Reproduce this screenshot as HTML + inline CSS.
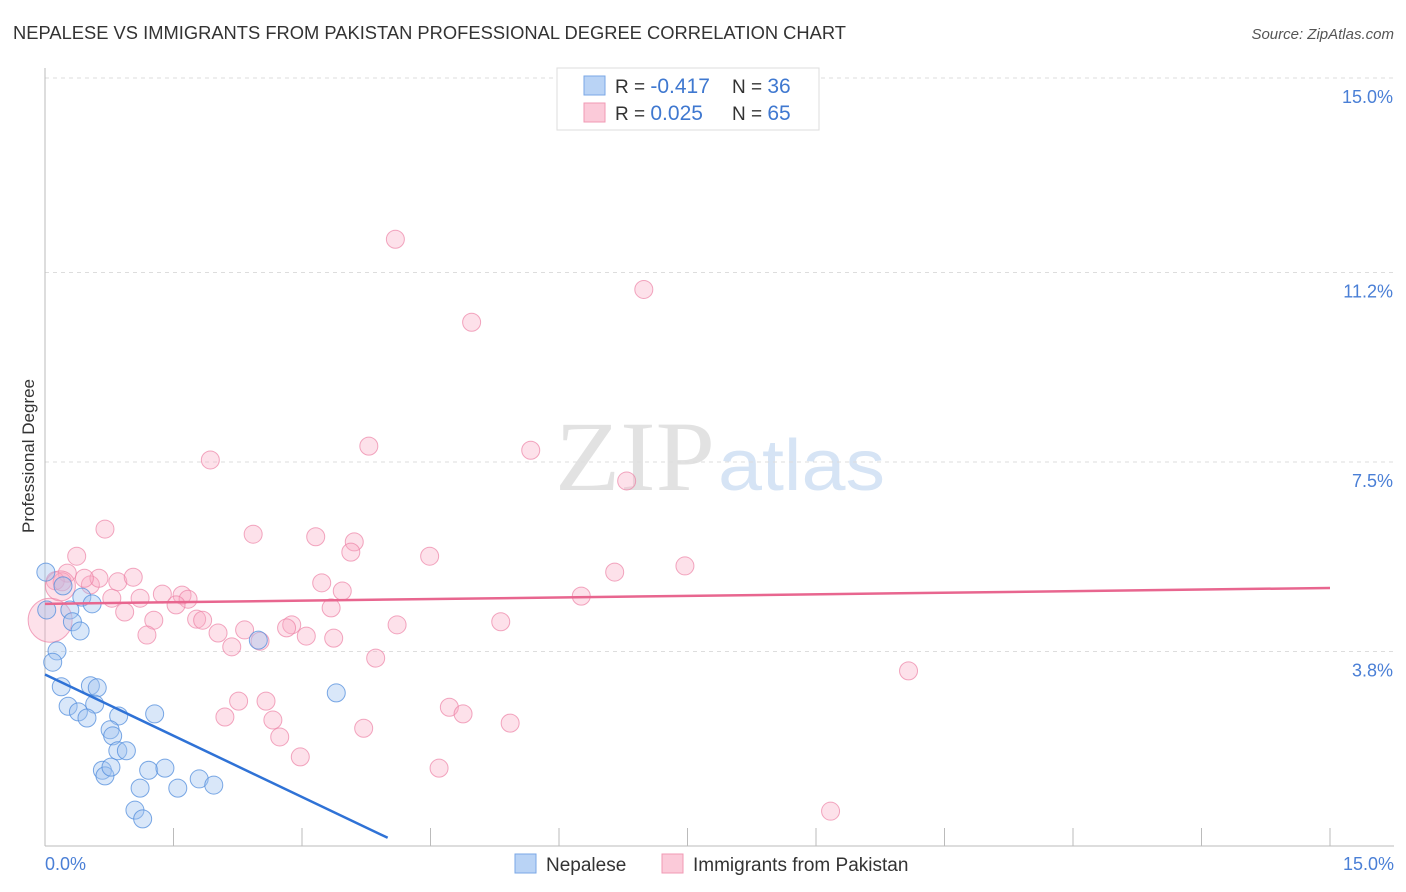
<!DOCTYPE html>
<html><head><meta charset="utf-8"><style>
body{margin:0;background:#fff;font-family:"Liberation Sans",sans-serif;}
svg{display:block}
</style></head><body>
<svg width="1406" height="892" id="svg">
<text x="13" y="39" font-size="18" fill="#333" textLength="833" lengthAdjust="spacingAndGlyphs">NEPALESE VS IMMIGRANTS FROM PAKISTAN PROFESSIONAL DEGREE CORRELATION CHART</text>
<text x="1394" y="39" font-size="15" fill="#555" font-style="italic" text-anchor="end">Source: ZipAtlas.com</text>
<text x="555" y="490" font-size="100" font-family="Liberation Serif" fill="#e2e2e2" textLength="160" lengthAdjust="spacingAndGlyphs">ZIP</text>
<text x="718" y="490" font-size="72" fill="#d6e4f5" textLength="167" lengthAdjust="spacingAndGlyphs">atlas</text>
<g id="grid"></g>
<line x1="45" y1="68" x2="45" y2="846" stroke="#bbb"/>
<line x1="45" y1="846" x2="1394" y2="846" stroke="#bbb"/>
<text x="34" y="456" font-size="17" fill="#333" transform="rotate(-90 34 456)" text-anchor="middle">Professional Degree</text>
<text x="45" y="870" font-size="18" fill="#4a7fd6">0.0%</text>
<text x="1394" y="870" font-size="18" fill="#4a7fd6" text-anchor="end">15.0%</text>
<g id="pts"></g>
<g id="lines"></g>
<g>
<rect x="557" y="68" width="262" height="62" fill="#fff" stroke="#ddd"/>
<rect x="584" y="76" width="21" height="19" fill="#b9d3f5" stroke="#7aa7e6"/>
<rect x="584" y="103" width="21" height="19" fill="#fbcad9" stroke="#f09ab4"/>
<text x="615" y="93" font-size="19" fill="#333">R = <tspan fill="#3f78d0" font-size="21">-0.417</tspan></text>
<text x="732" y="93" font-size="19" fill="#333">N = <tspan fill="#3f78d0" font-size="21">36</tspan></text>
<text x="615" y="120" font-size="19" fill="#333">R = <tspan fill="#3f78d0" font-size="21"> 0.025</tspan></text>
<text x="732" y="120" font-size="19" fill="#333">N = <tspan fill="#3f78d0" font-size="21">65</tspan></text>
</g>
<g>
<rect x="515" y="854" width="21" height="19" fill="#b9d3f5" stroke="#7aa7e6"/>
<text x="546" y="871" font-size="19" fill="#333">Nepalese</text>
<rect x="662" y="854" width="21" height="19" fill="#fbcad9" stroke="#f09ab4"/>
<text x="693" y="871" font-size="19" fill="#333">Immigrants from Pakistan</text>
</g>
</svg>
<script>
const yTicks=[15.0,11.2,7.5,3.8];
const yTickLabels=["15.0%","11.2%","7.5%","3.8%"];
const xTicks=[0,1.5,3,4.5,6,7.5,9,10.5,12,13.5,15];
const nepX=[0.01,0.21,0.02,0.29,0.43,0.55,0.32,0.41,0.14,0.09,0.19,0.53,0.61,0.27,0.58,0.39,0.49,0.86,1.28,0.76,0.79,0.85,0.95,0.67,0.70,0.77,1.21,1.40,1.11,1.05,1.14,1.55,1.80,1.97,2.49,3.40];
const nepY=[5.35,5.08,4.61,4.61,4.86,4.73,4.38,4.20,3.81,3.59,3.11,3.13,3.09,2.73,2.77,2.62,2.50,2.54,2.58,2.27,2.15,1.86,1.86,1.48,1.37,1.54,1.48,1.52,1.13,0.70,0.53,1.13,1.31,1.19,4.02,2.99];
const pakX=[4.09,6.99,4.98,3.78,5.67,1.93,6.79,0.70,2.43,3.16,3.61,3.57,4.49,0.37,6.65,7.47,0.26,0.12,0.53,0.63,0.85,1.03,0.46,1.37,1.60,1.67,1.11,0.78,3.23,3.47,6.26,0.20,0.93,1.27,1.77,1.53,3.34,1.84,1.19,2.02,2.33,2.88,2.82,3.05,3.37,2.18,2.51,4.11,5.32,3.86,10.08,2.26,2.58,2.10,2.66,2.74,2.98,3.72,4.72,4.88,5.43,4.60,9.17,0.06,0.18];
const pakY=[11.85,10.87,10.23,7.81,7.73,7.54,7.13,6.19,6.09,6.04,5.94,5.74,5.66,5.66,5.35,5.47,5.33,5.18,5.10,5.23,5.16,5.25,5.23,4.92,4.90,4.82,4.84,4.84,5.14,4.98,4.88,5.16,4.57,4.41,4.43,4.71,4.65,4.41,4.12,4.16,4.22,4.32,4.26,4.10,4.06,3.89,4.00,4.32,4.38,3.67,3.42,2.83,2.83,2.52,2.46,2.13,1.74,2.30,2.71,2.58,2.40,1.52,0.68,4.41,5.08];
const nepTrend=[0,3.35,4.0,0.16];
const pakTrend=[0,4.73,15,5.04];
const NS="http://www.w3.org/2000/svg";
const X=v=>45+v/15*1285, Y=v=>846-v*51.2;
const g=document.getElementById('grid');
function mk(t,a,p){const e=document.createElementNS(NS,t);for(const k in a)e.setAttribute(k,a[k]);p.appendChild(e);return e;}
yTicks.forEach((t,i)=>{
 const l=mk('line',{x1:45,x2:1394,y1:Y(t),y2:Y(t),stroke:'#ddd','stroke-dasharray':'4,4'},g);
 
 
 const tx=mk('text',{x:1393,y:Y(t)+25,'font-size':18,fill:'#4a7fd6','text-anchor':'end'},g);
 tx.textContent=yTickLabels[i];
 
 
});
xTicks.forEach(t=>{
 const l=mk('line',{x1:X(t),x2:X(t),y1:828,y2:846,stroke:'#bbb'},g);
 
 
});
const p=document.getElementById('pts');
pakX.forEach((x,i)=>{
 const c=mk('circle',{cx:X(x),cy:Y(pakY[i]),r:i>=63?(i==63?22:15):9,fill:'rgba(248,170,195,0.35)',stroke:'rgba(236,130,165,0.7)','stroke-width':1},p);
 
 
});
nepX.forEach((x,i)=>{
 const c=mk('circle',{cx:X(x),cy:Y(nepY[i]),r:9,fill:'rgba(160,196,240,0.4)',stroke:'rgba(80,140,220,0.75)','stroke-width':1},p);
 
 
});
const L=document.getElementById('lines');
const a=mk('line',{x1:X(nepTrend[0]),y1:Y(nepTrend[1]),x2:X(nepTrend[2]),y2:Y(nepTrend[3]),stroke:'#2f72d6','stroke-width':2.5},L);


const b=mk('line',{x1:X(pakTrend[0]),y1:Y(pakTrend[1]),x2:X(pakTrend[2]),y2:Y(pakTrend[3]),stroke:'#e8668f','stroke-width':2.5},L);


</script>
</body></html>
